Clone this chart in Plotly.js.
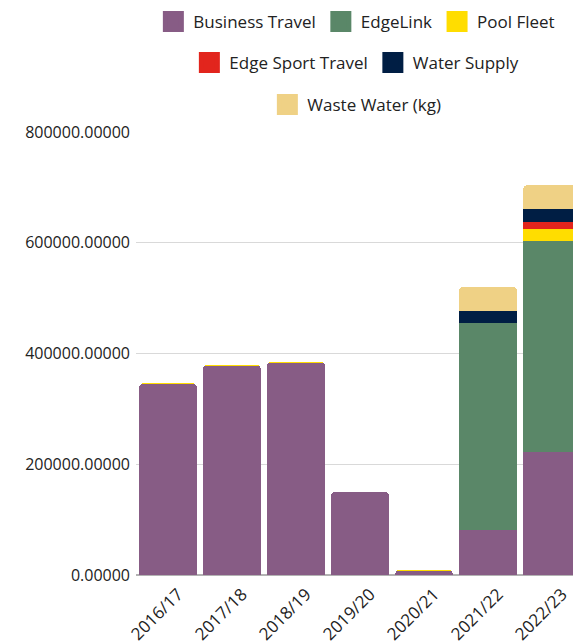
<!DOCTYPE html>
<html>
<head>
<meta charset="utf-8">
<script src="https://cdn.plot.ly/plotly-3.0.1.min.js"></script>
<style>
html,body{margin:0;padding:0;overflow:hidden;background:#fff;}
#chart{width:600px;height:641px;}
</style>
</head>
<body>
<div id="chart"></div>
<script>
var years = ["2016/17","2017/18","2018/19","2019/20","2020/21","2021/22","2022/23"];
var businessTravel = [345000, 377500, 383000, 150000, 8000, 81000, 222000];
var edgeLink       = [0, 0, 0, 0, 0, 374000, 381000];
var poolFleet      = [1000, 2000, 2000, 0, 1000, 0, 21700];
var edgeSport      = [0, 0, 0, 0, 0, 0, 12600];
var waterSupply    = [0, 0, 0, 0, 0, 21700, 23500];
var wasteWater     = [0, 0, 0, 0, 0, 43000, 42800];

var seriesNames = ["Business Travel","EdgeLink","Pool Fleet","Edge Sport Travel","Water Supply","Waste Water (kg)"];
var seriesData = [businessTravel, edgeLink, poolFleet, edgeSport, waterSupply, wasteWater];
var colors = ["#875c85","#5a8768","#ffdd00","#e2251d","#001e44","#efd185"];
var legendIds = ["legend","legend","legend","legend2","legend2","legend3"];

var traces = [];
for (var i = 0; i < seriesNames.length; i++) {
  traces.push({
    type: "bar",
    x: years,
    y: seriesData[i],
    name: seriesNames[i],
    marker: {color: colors[i]},
    showlegend: false,
    hoverinfo: "x+y+name"
  });
}
for (var j = 0; j < seriesNames.length; j++) {
  traces.push({
    type: "scatter",
    mode: "markers",
    x: [null],
    y: [null],
    name: seriesNames[j],
    legend: legendIds[j],
    marker: {symbol: "square", size: 16, color: colors[j], line: {color: colors[j], width: 5}},
    hoverinfo: "skip"
  });
}

var fnt = {family: "Open Sans, sans-serif", size: 17, color: "#222"};
var yfnt = {family: "Open Sans, sans-serif", size: 16, color: "#222"};
var legBase = {orientation: "h", traceorder: "normal", xref: "paper", yref: "container", x: 0.493, xanchor: "center", yanchor: "middle", font: fnt, bgcolor: "rgba(0,0,0,0)", itemclick: false};

var layout = {
  width: 600,
  height: 641,
  margin: {l: 136, r: 16, t: 132, b: 66},
  barmode: "stack",
  bargap: 0.1,
  barcornerradius: 4,
  paper_bgcolor: "#fff",
  plot_bgcolor: "#fff",
  font: fnt,
  xaxis: {
    type: "category",
    tickangle: -45,
    tickfont: fnt,
    ticklabelstandoff: 5,
    ticklabelshift: 10,
    showgrid: false,
    showline: false,
    ticks: ""
  },
  yaxis: {
    range: [0, 800000],
    tickvals: [0, 200000, 400000, 600000, 800000],
    tickformat: ".5f",
    tickfont: yfnt,
    ticklabelstandoff: 5,
    gridcolor: "#d9d9d9",
    gridwidth: 1,
    zeroline: true,
    zerolinecolor: "#b3b3b3",
    zerolinewidth: 2,
    showline: false,
    ticks: ""
  },
  legend: Object.assign({}, legBase, {y: 1 - 22/641}),
  legend2: Object.assign({}, legBase, {y: 1 - 63/641}),
  legend3: Object.assign({}, legBase, {y: 1 - 105/641})
};

Plotly.newPlot("chart", traces, layout, {displayModeBar: false, staticPlot: true});
</script>
</body>
</html>
